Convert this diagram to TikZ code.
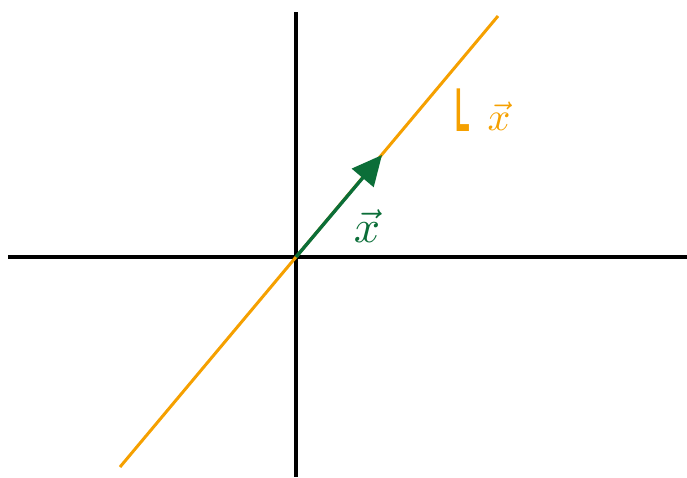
\documentclass[tikz,border=0pt]{standalone}
\usepackage{fontspec}
\setmainfont{Liberation Sans}
\usetikzlibrary{arrows.meta}
\definecolor{spanorange}{HTML}{F5A000}
\definecolor{vecgreen}{HTML}{0B6E38}
\tikzset{handlbl/.style={inner sep=0pt,anchor=center}}
\begin{document}
\begin{tikzpicture}[x=1pt,y=-1pt]
\useasboundingbox (0,0) rectangle (687,477);
\coordinate (o) at (296,257);
\draw[black,line width=3.2pt] (8,257) -- (687,257); \draw[black,line width=3.2pt] (296,12) -- (296,477);
\draw[spanorange,line width=3pt] (120,467) -- (498,16);
\coordinate (tip) at (382,155);
\draw[vecgreen,line width=3.4pt,-{Triangle[length=30pt,width=28pt]}] (o) -- (tip);
\node[spanorange,handlbl] (spanop) at (463,110) {\scalebox{2.4}[6.2]{\bfseries L}};
\node[spanorange,handlbl] (spanlbl) at (499,116) {\scalebox{4}{$\vec{x}$}};
\node[vecgreen,handlbl] (veclbl) at (367,226) {\scalebox{4.6}{$\vec{x}$}};
\end{tikzpicture}
\end{document}
